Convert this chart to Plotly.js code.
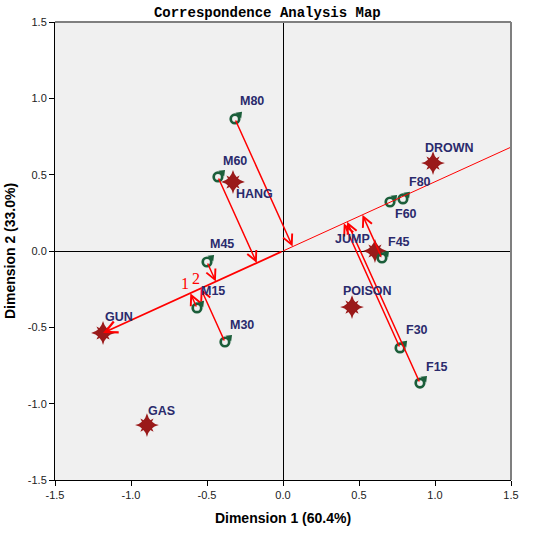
<!DOCTYPE html>
<html>
<head>
<meta charset="utf-8">
<script src="https://cdn.plot.ly/plotly-3.0.1.min.js"></script>
<style>html,body{margin:0;padding:0;background:#fff;}#chart{width:550px;height:536px;}</style>
</head>
<body>
<div id="chart"></div>
<script>
// ---- data ----
const ageSexLabels = ['M80','M60','M45','M15','M30','F80','F60','F45','F30','F15'];
const ageSexDim1   = [-0.316,-0.428,-0.500,-0.566,-0.382, 0.789, 0.704, 0.651, 0.770, 0.901];
const ageSexDim2   = [ 0.865, 0.485,-0.072,-0.373,-0.596, 0.341, 0.321,-0.046,-0.635,-0.865];

const methodLabels = ['DROWN','HANG','JUMP','POISON','GUN','GAS'];
const methodDim1   = [ 0.987,-0.329, 0.605, 0.454,-1.184,-0.895];
const methodDim2   = [ 0.576, 0.452, 0.000,-0.367,-0.537,-1.140];

const referenceMethod = 'GUN';
const axisTicks = [-1.5,-1.0,-0.5,0.0,0.5,1.0,1.5];

// ---- label placement (pixel shifts, style only) ----
const ageSexLabelShift = [[17,18],[17,16],[15,18],[16,17],[17,17],[17,17],[16,-12],[17,16],[17,18],[17,16]];
const methodLabelShift = [[16,15],[22,-12],[-22,12],[15,16],[16,16],[15,14]];

const RED = '#ff0000';
const NAVY = '#2a2a6c';
const GREEN = '#1b5e3a';
const STAR = '#9a1a1a';

// projection direction
const gi = methodLabels.indexOf(referenceMethod);
const gx = methodDim1[gi], gy = methodDim2[gi];
const gl = Math.hypot(gx, gy);
const ux = gx / gl, uy = gy / gl;

const annotations = [];
const shapes = [];

// thin line from origin in opposite direction to edge
const xEdge = axisTicks[axisTicks.length - 1];
shapes.push({type:'line', xref:'x', yref:'y', x0:0, y0:0, x1:xEdge, y1:xEdge*uy/ux, line:{color:RED, width:1}});
// thick arrow from origin to reference method
annotations.push({x:gx, y:gy, ax:0, ay:0, xref:'x', yref:'y', axref:'x', ayref:'y', text:'', showarrow:true,
  arrowhead:5, arrowsize:1.3, arrowwidth:1.8, arrowcolor:RED});

// projections
const scores = ageSexLabels.map((l, i) => ageSexDim1[i]*ux + ageSexDim2[i]*uy);
ageSexLabels.forEach((l, i) => {
  const px = scores[i]*ux, py = scores[i]*uy;
  const d = Math.hypot(ageSexDim1[i]-px, ageSexDim2[i]-py);
  if (d > 0.04) {
    annotations.push({x:px, y:py, ax:ageSexDim1[i], ay:ageSexDim2[i], xref:'x', yref:'y', axref:'x', ayref:'y',
      text:'', showarrow:true, arrowhead:5, arrowsize:1.3, arrowwidth:1.5, arrowcolor:RED});
  }
});
// rank labels 1, 2 for the strongest projections
const order = scores.map((s, i) => i).sort((a, b) => scores[b] - scores[a]);
order.slice(0, 2).forEach((i, r) => {
  annotations.push({x:scores[i]*ux, y:scores[i]*uy, xref:'x', yref:'y', text:String(r+1), showarrow:false,
    xshift:-5, yshift:10, font:{family:'Liberation Serif, serif', size:16, color:RED}});
});

// labels
const labelFont = {family:'Liberation Sans, Arial, sans-serif', size:12.5, color:NAVY, weight:'bold'};
ageSexLabels.forEach((l, i) => annotations.push({x:ageSexDim1[i], y:ageSexDim2[i], xref:'x', yref:'y', text:l,
  showarrow:false, xshift:ageSexLabelShift[i][0], yshift:ageSexLabelShift[i][1], font:labelFont}));
methodLabels.forEach((l, i) => annotations.push({x:methodDim1[i], y:methodDim2[i], xref:'x', yref:'y', text:l,
  showarrow:false, xshift:methodLabelShift[i][0], yshift:methodLabelShift[i][1], font:labelFont}));

// frame top/right
shapes.push({type:'line', xref:'paper', yref:'paper', x0:0, y0:1, x1:1, y1:1, line:{color:'#7f7f7f', width:2}});
shapes.push({type:'line', xref:'paper', yref:'paper', x0:1, y0:0, x1:1, y1:1, line:{color:'#7f7f7f', width:2}});

const traces = [
  {type:'scatter', mode:'markers', x:methodDim1, y:methodDim2, name:'method', hoverinfo:'x+y',
   marker:{symbol:'star-diamond', size:17, color:STAR, line:{width:0}}},
  {type:'scatter', mode:'markers', x:methodDim1, y:methodDim2, name:'method2', hoverinfo:'skip',
   marker:{symbol:'star-square', size:12, color:STAR, line:{width:0}}},
  // male-sign: ring + small arrow tip towards upper right
  {type:'scatter', mode:'markers', x:ageSexDim1, y:ageSexDim2, name:'age-sex tip', hoverinfo:'skip',
   marker:{symbol:'triangle-down', size:7, angle:225, standoff:6.5, color:GREEN, line:{width:0}}},
  {type:'scatter', mode:'markers', x:ageSexDim1, y:ageSexDim2, name:'age-sex',
   marker:{symbol:'circle-open', size:8.5, color:GREEN, line:{width:2.7, color:GREEN}}}
];

const axisCommon = {range:[-1.5,1.5], tickvals:axisTicks, ticktext:axisTicks.map(v => v.toFixed(1)),
  ticks:'outside', ticklen:5, tickcolor:'#000', showline:true, linecolor:'#000', linewidth:1,
  showgrid:false, zeroline:true, zerolinecolor:'#000', zerolinewidth:1,
  tickfont:{family:'Liberation Sans, Arial, sans-serif', size:11, color:'#222'}, fixedrange:true};

const layout = {
  width:550, height:536,
  margin:{l:55, r:39, t:22, b:56},
  paper_bgcolor:'#ffffff', plot_bgcolor:'#f0f0f0',
  showlegend:false,
  title:{text:'Correspondence Analysis Map', x:0.486, xref:'container', xanchor:'center', y:0.978, yanchor:'middle',
    font:{family:'Liberation Mono, monospace', size:14, color:'#000', weight:'bold'}},
  xaxis:Object.assign({}, axisCommon, {title:{text:'Dimension 1 (60.4%)', standoff:12,
    font:{family:'Liberation Sans, Arial, sans-serif', size:14, color:'#000', weight:'bold'}}}),
  yaxis:Object.assign({}, axisCommon, {title:{text:'Dimension 2 (33.0%)', standoff:8,
    font:{family:'Liberation Sans, Arial, sans-serif', size:14, color:'#000', weight:'bold'}}}),
  annotations:annotations,
  shapes:shapes
};

Plotly.newPlot('chart', traces, layout, {displayModeBar:false, staticPlot:true});
</script>
</body>
</html>
